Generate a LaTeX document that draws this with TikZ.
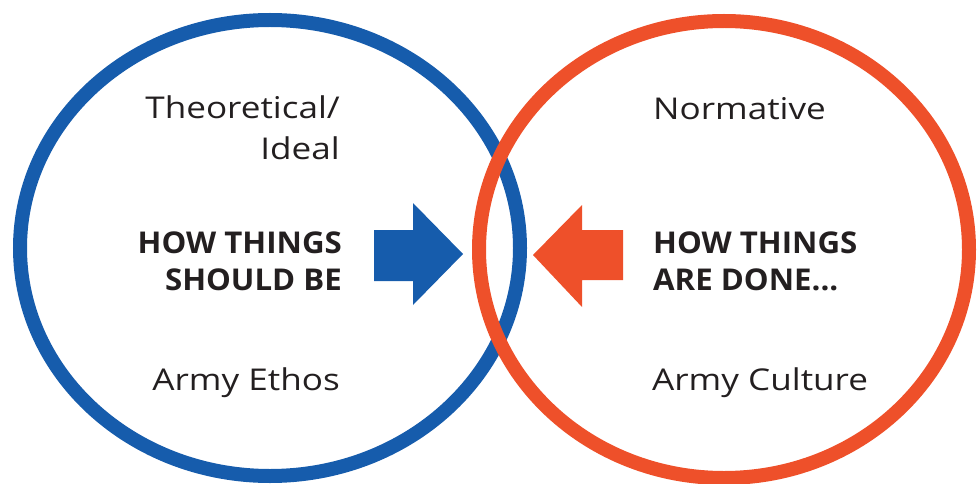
\documentclass[tikz,border=0pt]{standalone}
\usepackage{fontspec}
\newfontfamily\labfont[FakeStretch=1.17]{Open Sans}
\newfontfamily\boldlab[FakeStretch=1.04]{Open Sans Bold}
\definecolor{ethosblue}{RGB}{22,92,172}
\definecolor{cultorange}{RGB}{238,80,42}
\definecolor{txt}{RGB}{35,31,32}
\begin{document}
\begin{tikzpicture}[x=1pt,y=-1pt,
  lab/.style={font=\labfont\fontsize{30}{36}\selectfont, text=txt, inner sep=0pt},
  blab/.style={font=\boldlab\fontsize{30}{36}\selectfont, text=txt, inner sep=0pt},
  ring/.style={line width=14pt}]
\useasboundingbox (0,0) rectangle (977,484);
% circles
\draw[ring, ethosblue] (270,248) ellipse [x radius=250pt, y radius=228pt];
\draw[ring, cultorange] (724,249.5) ellipse [x radius=245pt, y radius=228.5pt];
% arrows
\fill[ethosblue] (374,230) -- (413,230) -- (413,203) -- (463,254) -- (413,305) -- (413,281) -- (374,281) -- cycle;
\fill[cultorange] (623,230) -- (582,230) -- (582,205) -- (533,255) -- (582,307) -- (582,280) -- (623,280) -- cycle;
% left texts
\node[lab, anchor=base east] (theo) at (340,119) {Theoretical/};
\node[lab, anchor=base east] (ideal) at (340,160) {Ideal};
\node[blab, anchor=base east] (how1) at (342,253) {HOW THINGS};
\node[blab, anchor=base east] (should) at (342,290) {SHOULD BE};
\node[lab, anchor=base east] (ethos) at (340,390) {Army Ethos};
% right texts
\node[lab, anchor=base west] (norm) at (653,120) {Normative};
\node[blab, anchor=base west] (how2) at (653,253) {HOW THINGS};
\node[blab, anchor=base west] (done) at (653,290) {ARE DONE...};
\node[lab, anchor=base west] (culture) at (652,390) {Army Culture};
\end{tikzpicture}
\end{document}
